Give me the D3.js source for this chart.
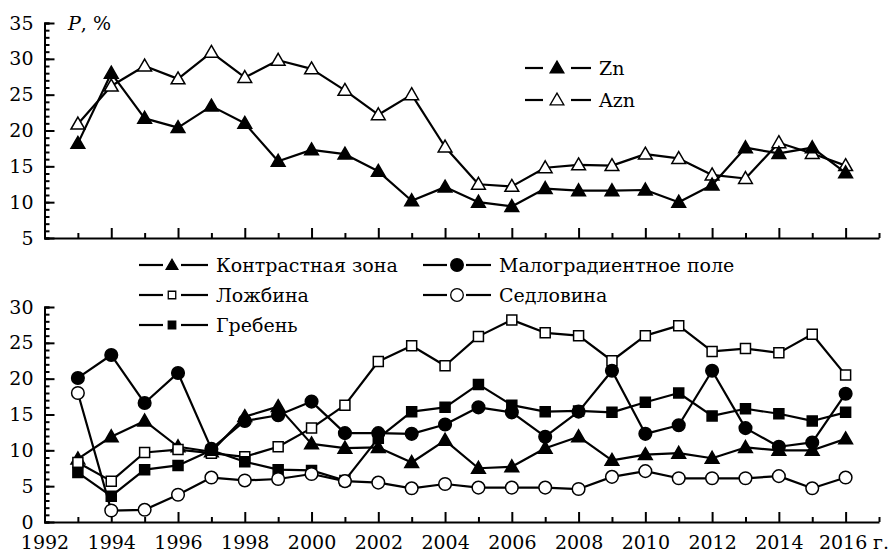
<!DOCTYPE html>
<html>
<head>
<meta charset="utf-8">
<script src="https://cdn.jsdelivr.net/npm/d3@7"></script>
</head>
<body style="margin:0">
<svg id="drawing_region" width="893" height="554"></svg>
<script>
// years on the horizontal axis
const years = [1993, 1994, 1995, 1996, 1997, 1998, 1999, 2000, 2001, 2002, 2003, 2004,
               2005, 2006, 2007, 2008, 2009, 2010, 2011, 2012, 2013, 2014, 2015, 2016];

// top panel
const zn  = [18.2, 28.0, 21.7, 20.4, 23.4, 21.0, 15.7, 17.3, 16.7, 14.3, 10.2, 12.1,
             10.0, 9.4, 11.9, 11.6, 11.6, 11.7, 10.0, 12.4, 17.6, 16.8, 17.6, 14.1];
const azn = [20.9, 26.2, 29.0, 27.2, 30.9, 27.4, 29.8, 28.6, 25.6, 22.2, 25.0, 17.7,
             12.5, 12.2, 14.8, 15.2, 15.1, 16.7, 16.1, 13.8, 13.3, 18.3, 16.8, 15.1];

// bottom panel
const contrast = [8.8, 11.9, 14.1, 10.5, 9.8, 14.7, 16.1, 10.9, 10.3, 10.4, 8.3, 11.4,
                  7.5, 7.7, 10.3, 11.9, 8.6, 9.4, 9.6, 8.9, 10.4, 10.0, 10.0, 11.6];
const lowgrad  = [20.1, 23.3, 16.6, 20.8, 10.2, 14.1, 14.9, 16.8, 12.4, 12.4, 12.3, 13.6,
                  16.0, 15.3, 11.9, 15.4, 21.1, 12.3, 13.5, 21.1, 13.1, 10.5, 11.1, 17.9];
const hollow   = [8.3, 5.7, 9.7, 10.1, 9.6, 9.1, 10.5, 13.1, 16.3, 22.4, 24.6, 21.8,
                  25.9, 28.2, 26.4, 26.0, 22.5, 26.0, 27.4, 23.8, 24.2, 23.6, 26.2, 20.5];
const crest    = [6.9, 3.6, 7.3, 7.9, 10.0, 8.4, 7.3, 7.2, 5.8, 11.7, 15.4, 16.0,
                  19.2, 16.3, 15.4, 15.5, 15.3, 16.7, 18.0, 14.8, 15.8, 15.1, 14.1, 15.3];
const saddle   = [18.0, 1.6, 1.7, 3.8, 6.2, 5.8, 6.0, 6.7, 5.7, 5.5, 4.7, 5.3,
                  4.8, 4.8, 4.8, 4.6, 6.3, 7.1, 6.1, 6.1, 6.1, 6.4, 4.7, 6.2];

const topTicks = [5, 10, 15, 20, 25, 30, 35];
const bottomTicks = [0, 5, 10, 15, 20, 25, 30];
const yearLabels = [1992, 1994, 1996, 1998, 2000, 2002, 2004, 2006, 2008, 2010, 2012, 2014, 2016];

const FONT = '"DejaVu Serif"';
const FS = '19px';
const svg = d3.select('#drawing_region');

const xscale = d3.scaleLinear().domain([1992, 2017]).range([44.5, 879]);
const yTop = d3.scaleLinear().domain([5, 35]).range([238, 23]);
const yBot = d3.scaleLinear().domain([0, 30]).range([522, 307]);

const shapes = {
    triangle: { type: d3.symbolTriangle, size: 82 },
    circle:   { type: d3.symbolCircle,   size: 125 },
    square:   { type: d3.symbolSquare,   size: 100 }
};

function drawAxes(yscale, ticks, withLabels) {
    const y0 = yscale.range()[0];
    const [d0, d1] = yscale.domain();

    // y axis: minor every 1, major every 5
    const yMinor = d3.axisLeft(yscale).tickValues(d3.range(d0, d1 + 1)).tickSize(-5).tickFormat('');
    const yMajor = d3.axisLeft(yscale).tickValues(ticks).tickSize(-10).tickPadding(11).tickFormat(d3.format('d'));
    svg.append('g').attr('transform', `translate(${xscale(1992)},0)`).call(yMinor);
    const gy2 = svg.append('g').attr('transform', `translate(${xscale(1992)},0)`).call(yMajor);
    gy2.select('.domain').remove();

    // x axis: odd years short, even years long
    const odd = d3.range(1993, 2018, 2), even = d3.range(1994, 2017, 2);
    const xMinor = d3.axisBottom(xscale).tickValues(odd).tickSizeInner(-5).tickSizeOuter(0).tickFormat('');
    const xMajor = d3.axisBottom(xscale).tickValues(withLabels ? yearLabels : even)
        .tickSizeInner(-10).tickSizeOuter(0).tickPadding(14).tickFormat(withLabels ? d3.format('d') : '');
    svg.append('g').attr('transform', `translate(0,${y0})`).call(xMinor);
    const gx2 = svg.append('g').attr('transform', `translate(0,${y0})`).call(xMajor);
    gx2.select('.domain').remove();
    if (withLabels) {
        gx2.selectAll('.tick').filter(d => d === 1992).select('line').remove();
        gx2.selectAll('.tick').filter(d => d === 2016).select('text').attr('x', -3);
    }

    // drop the axis' default sans-serif font
    svg.selectAll('g').attr('font-family', null).attr('font-size', null);
    svg.selectAll('.domain, .tick line').attr('stroke', '#000').attr('stroke-width', 2);
    svg.selectAll('.tick text')
        .style('font-family', FONT)
        .style('font-size', FS)
        .attr('fill', '#000');
}

function drawSeries(yscale, values, shape, filled) {
    const pts = years.map((yr, i) => [xscale(yr), yscale(values[i])]);
    svg.append('path')
        .attr('d', d3.line()(pts))
        .attr('fill', 'none')
        .attr('stroke', '#000')
        .attr('stroke-width', 2.2)
        .attr('stroke-linejoin', 'round');
    const s = shapes[shape];
    svg.append('g').selectAll('path')
        .data(pts)
        .join('path')
        .attr('transform', d => `translate(${d[0]},${d[1] + (shape === 'triangle' ? 1 : 0)})`)
        .attr('d', d3.symbol().type(s.type).size(s.size))
        .attr('fill', filled ? '#000' : '#fff')
        .attr('stroke', '#000')
        .attr('stroke-width', 1.5);
}

function addText(x, y, txt) {
    return svg.append('text').attr('x', x).attr('y', y)
        .style('font-family', FONT).style('font-size', FS)
        .attr('fill', '#000').text(txt);
}

function legendItem(x1, x2, xm, x3, x4, y, shape, filled, size, label) {
    const g = svg.append('g');
    g.append('line').attr('x1', x1).attr('x2', x2).attr('y1', y).attr('y2', y)
        .attr('stroke', '#000').attr('stroke-width', 2.2);
    g.append('line').attr('x1', x3).attr('x2', x4).attr('y1', y).attr('y2', y)
        .attr('stroke', '#000').attr('stroke-width', 2.2);
    g.append('path')
        .attr('transform', `translate(${xm},${y + (shape === 'triangle' ? 1 : 0)})`)
        .attr('d', d3.symbol().type(shapes[shape].type).size(size))
        .attr('fill', filled ? '#000' : '#fff')
        .attr('stroke', '#000').attr('stroke-width', 1.3);
    addText(x4 + 8, y + 7, label);
}

// ---- top panel
drawAxes(yTop, topTicks, false);
drawSeries(yTop, azn, 'triangle', false);
drawSeries(yTop, zn, 'triangle', true);

const pl = addText(68, 30, '');
pl.append('tspan').style('font-style', 'italic').text('P');
pl.append('tspan').text(', %');

legendItem(525, 543, 557, 571, 591, 68, 'triangle', true, 82, 'Zn');
legendItem(525, 543, 557, 571, 591, 100, 'triangle', false, 82, 'Azn');

// ---- bottom panel
drawAxes(yBot, bottomTicks, true);
drawSeries(yBot, contrast, 'triangle', true);
drawSeries(yBot, hollow, 'square', false);
drawSeries(yBot, crest, 'square', true);
drawSeries(yBot, saddle, 'circle', false);
drawSeries(yBot, lowgrad, 'circle', true);

addText(873, 549, 'г.');

legendItem(139, 163, 172, 181, 208, 265, 'triangle', true, 60, 'Контрастная зона');
legendItem(139, 163, 172, 181, 208, 295, 'square', false, 56, 'Ложбина');
legendItem(139, 163, 172, 181, 208, 325, 'square', true, 56, 'Гребень');
legendItem(423, 447, 457, 466, 491, 265, 'circle', true, 125, 'Малоградиентное поле');
legendItem(423, 447, 457, 466, 491, 295, 'circle', false, 125, 'Седловина');
</script>
</body>
</html>
